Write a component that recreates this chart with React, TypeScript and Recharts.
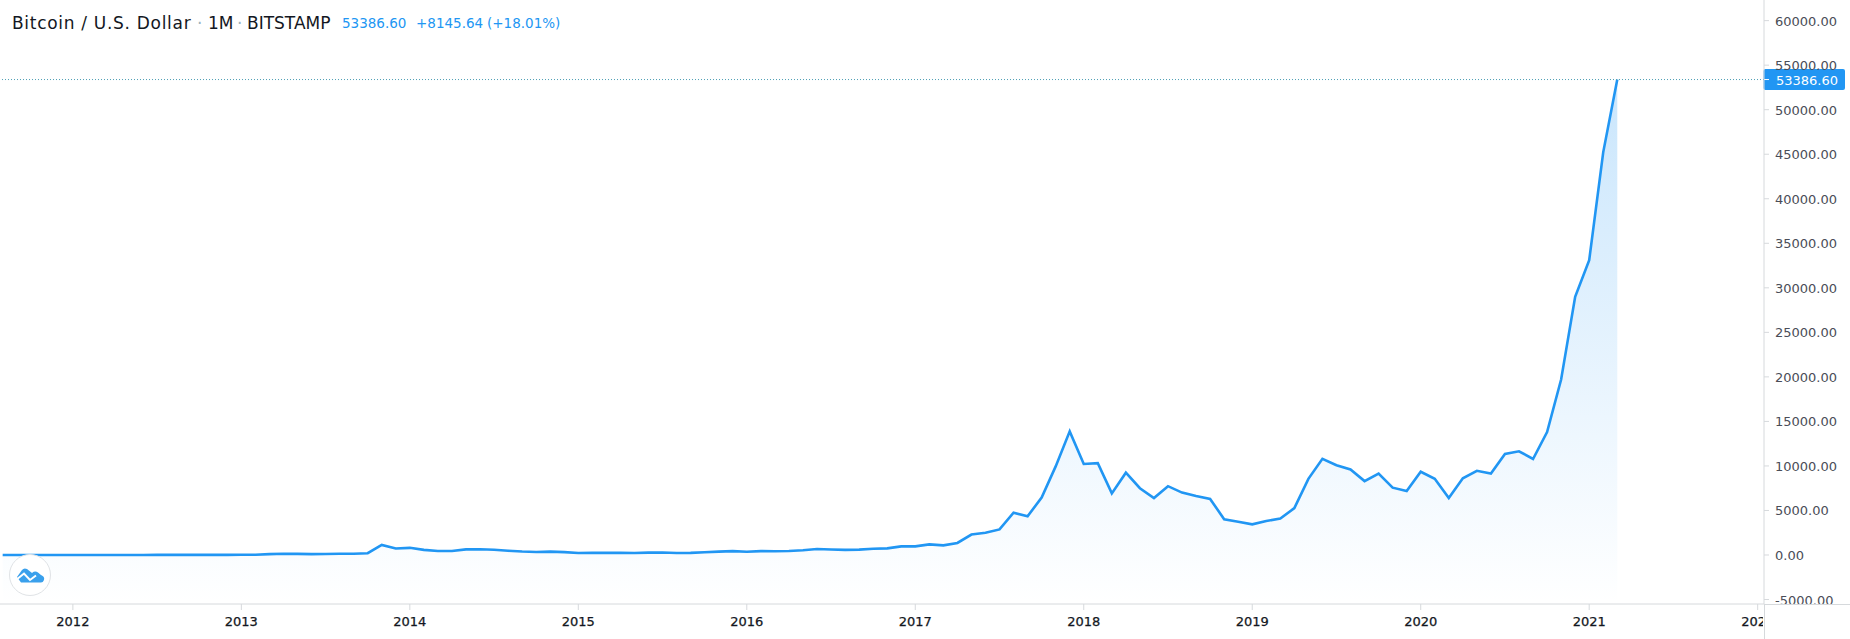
import { Area, AreaChart, ReferenceLine, XAxis, YAxis } from "recharts";

const FONT = "'DejaVu Sans', sans-serif";
const BLUE = "#2196f3";
const AXIS_LINE = "#d6d9dc";

// Monthly closes, Aug 2011 .. Mar 2021
const closes2011 = [8, 5, 3, 3, 5];
const closes2012 = [5.5, 5, 5, 5, 5, 7, 9, 10, 12, 11, 12.5, 13.5];
const closes2013 = [20, 33, 93, 139, 129, 97, 106, 135, 133, 198, 1129, 732];
const closes2014 = [805, 573, 457, 447, 628, 641, 586, 478, 388, 338, 378, 320];
const closes2015 = [217, 254, 244, 236, 230, 263, 284, 230, 236, 314, 377, 430];
const closes2016 = [368, 437, 416, 448, 531, 673, 624, 575, 608, 700, 745, 966];
const closes2017 = [970, 1190, 1080, 1350, 2300, 2490, 2870, 4740, 4350, 6450, 9950, 13880];
const closes2018 = [10220, 10320, 6920, 9240, 7500, 6390, 7730, 7010, 6620, 6300, 4020, 3740];
const closes2019 = [3440, 3810, 4100, 5260, 8550, 10800, 10080, 9600, 8300, 9150, 7560, 7190];
const closes2020 = [9350, 8550, 6410, 8620, 9450, 9140, 11350, 11650, 10780, 13800, 19700, 28990];
const closes2021 = [33100, 45240, 53386.6];

const closes = [
	...closes2011,
	...closes2012,
	...closes2013,
	...closes2014,
	...closes2015,
	...closes2016,
	...closes2017,
	...closes2018,
	...closes2019,
	...closes2020,
	...closes2021,
];

const yearTicks = [5, 17, 29, 41, 53, 65, 77, 89, 101, 113, 125];
const yearLabels = ["2012", "2013", "2014", "2015", "2016", "2017", "2018", "2019", "2020", "2021", "2022"];
const priceTicks = [-5000, 0, 5000, 10000, 15000, 20000, 25000, 30000, 35000, 40000, 45000, 50000, 55000, 60000];
const lastPrice = 53386.6;

const data = closes.map((close, month) => ({ month, close }));

const TimeTick = ({ x, y, payload }: any) => (
	<text
		x={x}
		y={y + 14}
		textAnchor="middle"
		fontFamily={FONT}
		fontSize={13}
		fill="#131722"
		stroke="#131722"
		strokeWidth={0.25}
		clipPath="url(#timeClip)"
	>
		{yearLabels[yearTicks.indexOf(payload.value)]}
	</text>
);

const PriceTick = ({ x, y, payload }: any) => (
	<text
		x={x + 4}
		y={y + 5}
		fontFamily={FONT}
		fontSize={13}
		fill="#4a4d57"
		clipPath="url(#priceClip)"
	>
		{payload.value.toFixed(2)}
	</text>
);

const PriceTag = ({ viewBox }: any) => (
	<g>
		<rect x={1763.5} y={viewBox.y - 10.5} width={81.5} height={21} rx={2} fill={BLUE} />
		<line x1={1764} x2={1769} y1={viewBox.y} y2={viewBox.y} stroke="#ffffff" />
		<text x={1776} y={viewBox.y + 5} fontFamily={FONT} fontSize={13} fill="#ffffff">
			{lastPrice.toFixed(2)}
		</text>
	</g>
);

const Logo = () => (
	<svg
		width={44}
		height={44}
		viewBox="0 0 44 44"
		style={{ position: "absolute", left: 7.5, top: 553 }}
	>
		<circle cx={22} cy={22} r={20.5} fill="#ffffff" stroke="#e0e3e6" strokeWidth={1} />
		<path
			d="M9 24 L14 17 Q16 14.5 19 16 L24 20 Q27 17.5 30 19.5 L33 22 Q37 23.5 36 27 Q35 29.5 33 29.5 L13 29.5 Z"
			fill="#3aa0ec"
		/>
		<path d="M8 27 L16 20.5 L22 27 L28 22.5" fill="none" stroke="#ffffff" strokeWidth={2} />
	</svg>
);

const headerText = (left: number, color: string, fontSize: number, letterSpacing = 0) => ({
	position: "absolute" as const,
	left,
	top: 12.5,
	lineHeight: "20px",
	fontFamily: FONT,
	fontSize,
	letterSpacing,
	color,
	whiteSpace: "nowrap" as const,
});

export default function App() {
	return (
		<div
			style={{
				position: "absolute",
				left: 0,
				top: 0,
				width: 1850,
				height: 639,
				background: "#ffffff",
				overflow: "hidden",
			}}
		>
			<AreaChart
				width={1850}
				height={639}
				data={data}
				margin={{ top: 0, right: 0, bottom: 0, left: 0 }}
			>
				<defs>
					<linearGradient id="areaFill" x1="0" y1="0" x2="0" y2="1">
						<stop offset="0%" stopColor={BLUE} stopOpacity={0.24} />
						<stop offset="100%" stopColor={BLUE} stopOpacity={0} />
					</linearGradient>
					<clipPath id="timeClip">
						<rect x={0} y={604} width={1763} height={35} />
					</clipPath>
					<clipPath id="priceClip">
						<rect x={1764} y={0} width={86} height={604} />
					</clipPath>
				</defs>
				<XAxis
					dataKey="month"
					type="number"
					domain={[-0.19, 125.45]}
					allowDataOverflow
					ticks={yearTicks}
					height={35}
					stroke={AXIS_LINE}
					tickSize={6}
					tick={<TimeTick />}
					interval={0}
				/>
				<YAxis
					orientation="right"
					domain={[-5502, 62317]}
					allowDataOverflow
					ticks={priceTicks}
					width={86}
					stroke={AXIS_LINE}
					tickSize={5}
					tick={<PriceTick />}
					interval={0}
				/>
				<Area
					type="linear"
					dataKey="close"
					baseValue={-5502}
					stroke={BLUE}
					strokeWidth={2.6}
					fill="url(#areaFill)"
					fillOpacity={1}
					dot={false}
					activeDot={false}
					isAnimationActive={false}
				/>
				<ReferenceLine
					y={lastPrice}
					stroke="#4f9fb5"
					strokeDasharray="1 2"
					label={<PriceTag />}
				/>
			</AreaChart>
			<div
				style={{
					position: "absolute",
					left: 1764,
					top: 604,
					width: 1,
					height: 35,
					background: AXIS_LINE,
				}}
			/>
			<div
				style={{
					position: "absolute",
					left: 1764,
					top: 604,
					width: 86,
					height: 1,
					background: AXIS_LINE,
				}}
			/>
			<span style={headerText(12, "#131722", 17, 0.7)}>Bitcoin / U.S. Dollar</span>
			<span style={headerText(197, "#9db2bd", 17)}>·</span>
			<span style={headerText(208, "#131722", 17)}>1M</span>
			<span style={headerText(237, "#9db2bd", 17)}>·</span>
			<span style={headerText(247, "#131722", 17)}>BITSTAMP</span>
			<span style={headerText(342, BLUE, 13.5)}>53386.60</span>
			<span style={headerText(416, BLUE, 13.5)}>+8145.64</span>
			<span style={headerText(487, BLUE, 13.5)}>(+18.01%)</span>
			<Logo />
		</div>
	);
}
